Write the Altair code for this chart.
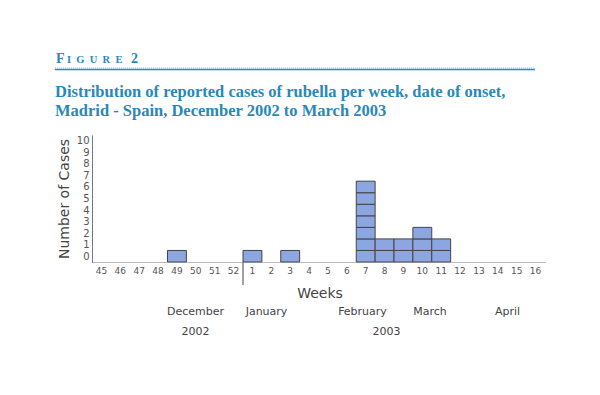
import altair as alt
import pandas as pd

weeks = ["45", "46", "47", "48", "49", "50", "51", "52",
         "1", "2", "3", "4", "5", "6", "7", "8", "9", "10", "11", "12", "13", "14", "15", "16"]
cases = [0, 0, 0, 0, 1, 0, 0, 0,
         1, 0, 1, 0, 0, 0, 7, 2, 2, 3, 2, 0, 0, 0, 0, 0]
y_ticks = [0, 1, 2, 3, 4, 5, 6, 7, 8, 9, 10]
months = ["December", "January", "February", "March", "April"]
years = ["2002", "2003"]
title_lines = ["Distribution of reported cases of rubella per week, date of onset,",
               "Madrid - Spain, December 2002 to March 2003"]

# one cell per reported case (stacked unit boxes)
rows = []
for w, c in zip(weeks, cases):
    for i in range(c):
        rows.append({"week": w, "y0": i, "y1": i + 1})
cells = pd.DataFrame(rows)
one = pd.DataFrame({"k": [0]})

W, H = 453, 127
TEAL = "#2a88b8"
GREY = "#555555"

xenc = alt.X("week:N", sort=weeks, scale=alt.Scale(domain=weeks, paddingInner=0, paddingOuter=0),
             axis=alt.Axis(title=None, labelAngle=0, labelFontSize=9, labelColor=GREY,
                           labelFont="DejaVu Sans", ticks=False, labelPadding=4,
                           domainColor="#777777", domainDash=[1, 1]))
yenc = alt.Y("y0:Q", scale=alt.Scale(domain=[0, 11], nice=False, zero=True),
             axis=alt.Axis(title="Number of Cases", values=[v + 0.5 for v in y_ticks],
                           labelExpr="format(datum.value - 0.5, 'd')", labelFontSize=10,
                           labelColor=GREY, labelFont="DejaVu Sans", ticks=False,
                           labelPadding=3, grid=False, titleFontSize=14, titleColor="#444444",
                           titleFont="DejaVu Sans", titleFontWeight="normal", titlePadding=5,
                           domainColor="#777777"))

bars = alt.Chart(cells).mark_rect(fill="#8ca6e2", stroke="#444444", strokeWidth=1).encode(
    x=xenc, y=yenc, y2="y1:Q")

sep = alt.Chart(one).mark_rule(color="#444444", strokeWidth=1).encode(
    x=alt.value(8 * W / 24), y=alt.value(H), y2=alt.value(H + 23))

def txt(s, x, y, size, color="#444444", font="DejaVu Sans", weight="normal", align="center", baseline="middle"):
    return alt.Chart(one).mark_text(text=s, fontSize=size, color=color, font=font,
                                     fontWeight=weight, align=align, baseline=baseline).encode(
        x=alt.value(x), y=alt.value(y))

layers = [bars, sep]
layers.append(txt("F", -36, -72, 14, TEAL, "Liberation Serif", "bold", "left", "alphabetic"))
layers.append(txt("I\u2002G\u2002U\u2002R\u2002E", -25, -72, 10.5, TEAL, "Liberation Serif", "bold", "left", "alphabetic"))
layers.append(txt("2", 39, -72, 14, TEAL, "Liberation Serif", "bold", "left", "alphabetic"))
layers.append(alt.Chart(one).mark_rule(color="#9cc8e8", strokeWidth=1, strokeDash=[1, 1]).encode(
    x=alt.value(-37), x2=alt.value(443), y=alt.value(-67)))
layers.append(alt.Chart(one).mark_rule(color="#2a88c8", strokeWidth=1.5).encode(
    x=alt.value(-37), x2=alt.value(443), y=alt.value(-65.5)))
layers.append(txt(title_lines[0], -37, -38, 16.5, TEAL, "Liberation Serif", "bold", "left", "alphabetic"))
layers.append(txt(title_lines[1], -37, -19, 16.5, TEAL, "Liberation Serif", "bold", "left", "alphabetic"))
layers.append(txt("Weeks", 228, 159, 14))
for m, x in zip(months, [103.5, 174.5, 270.5, 338, 415.5]):
    layers.append(txt(m, x, 177, 11))
for yv, x in zip(years, [103.5, 294.5]):
    layers.append(txt(yv, x, 197, 11))

chart = alt.layer(*layers).properties(
    width=W, height=H,
    autosize="none",
    padding={"left": 84, "top": 127, "right": 47, "bottom": 125},
    background="white",
).configure_view(stroke=None)

chart.save("out.html", embed_options={"renderer": "svg", "actions": False})
